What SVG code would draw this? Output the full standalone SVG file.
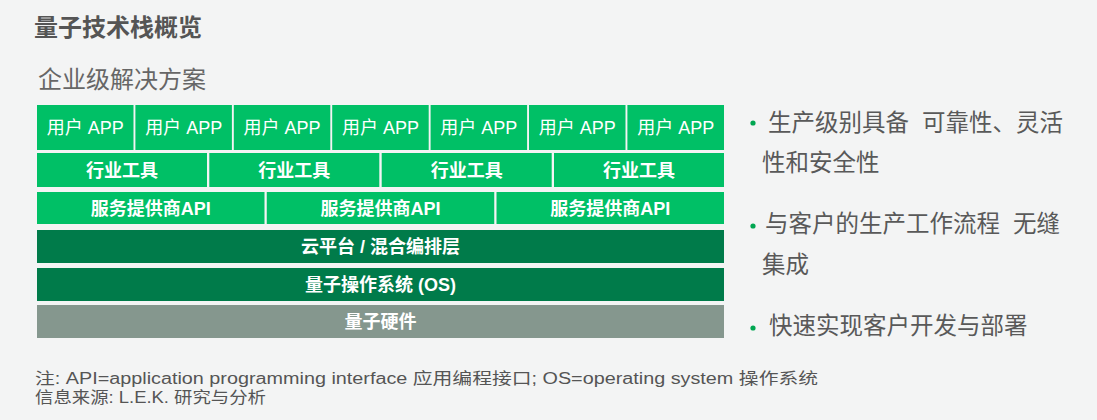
<svg xmlns="http://www.w3.org/2000/svg" width="1097" height="420" viewBox="0 0 1097 420">
<style>
.t{font-family:"Liberation Sans","Noto Sans CJK SC",sans-serif}
.g{fill:#00C066}
.d{fill:#007B4A}
.h{fill:#85978E}
.bx{font-family:"Liberation Sans","Noto Sans CJK SC",sans-serif;fill:#fff;font-size:18px;text-anchor:middle}
.b{font-weight:bold}
.bl{font-family:"Liberation Sans","Noto Sans CJK SC",sans-serif;fill:#595959;font-size:23.5px}
.dot{fill:#00A651}
.nt{font-family:"Liberation Sans","Noto Sans CJK SC",sans-serif;fill:#555;font-size:16px}
</style>
<rect width="1097" height="420" fill="#F3F4F4"/>
<text class="t" x="34" y="36" font-size="24" font-weight="bold" fill="#555">量子技术栈概览</text>
<text class="t" x="38" y="88" font-size="24" fill="#666">企业级解决方案</text>

<g id="apps">
<g id="app1"><rect class="g" x="37" y="105" width="96.5" height="45"/><text class="bx" x="85.25" y="134">用户 APP</text></g>
<g id="app2"><rect class="g" x="135.4" y="105" width="96.5" height="45"/><text class="bx" x="183.65" y="134">用户 APP</text></g>
<g id="app3"><rect class="g" x="233.8" y="105" width="96.5" height="45"/><text class="bx" x="282.05" y="134">用户 APP</text></g>
<g id="app4"><rect class="g" x="332.2" y="105" width="96.5" height="45"/><text class="bx" x="380.45" y="134">用户 APP</text></g>
<g id="app5"><rect class="g" x="430.6" y="105" width="96.5" height="45"/><text class="bx" x="478.85" y="134">用户 APP</text></g>
<g id="app6"><rect class="g" x="529" y="105" width="96.5" height="45"/><text class="bx" x="577.25" y="134">用户 APP</text></g>
<g id="app7"><rect class="g" x="627.4" y="105" width="96.6" height="45"/><text class="bx" x="675.7" y="134">用户 APP</text></g>
</g>

<g id="tools">
<g id="tool1"><rect class="g" x="37" y="153" width="170" height="34"/><text class="bx b" x="122" y="176.5">行业工具</text></g>
<g id="tool2"><rect class="g" x="209.3" y="153" width="170" height="34"/><text class="bx b" x="294.3" y="176.5">行业工具</text></g>
<g id="tool3"><rect class="g" x="381.7" y="153" width="170" height="34"/><text class="bx b" x="466.7" y="176.5">行业工具</text></g>
<g id="tool4"><rect class="g" x="554" y="153" width="170" height="34"/><text class="bx b" x="639" y="176.5">行业工具</text></g>
</g>

<g id="apis">
<g id="api1"><rect class="g" x="37" y="192" width="227.5" height="32"/><text class="bx b" x="150.75" y="215">服务提供商API</text></g>
<g id="api2"><rect class="g" x="266.75" y="192" width="227.5" height="32"/><text class="bx b" x="380.5" y="215">服务提供商API</text></g>
<g id="api3"><rect class="g" x="496.5" y="192" width="227.5" height="32"/><text class="bx b" x="610.25" y="215">服务提供商API</text></g>
</g>

<g id="cloud"><rect class="d" x="37" y="230" width="687" height="33"/><text class="bx b" x="380.5" y="253">云平台 / 混合编排层</text></g>
<g id="os"><rect class="d" x="37" y="268" width="687" height="33"/><text class="bx b" x="380.5" y="291">量子操作系统 (OS)</text></g>
<g id="hw"><rect class="h" x="37" y="305" width="687" height="33"/><text class="bx b" x="380.5" y="328">量子硬件</text></g>

<g id="connectors"></g>

<g id="bullets">
<circle class="dot" cx="753" cy="123" r="2.6"/>
<text class="bl" x="768" y="131" xml:space="preserve">生产级别具备  可靠性、灵活</text>
<text class="bl" x="762" y="171">性和安全性</text>
<circle class="dot" cx="753" cy="226" r="2.6"/>
<text class="bl" x="765" y="232" xml:space="preserve">与客户的生产工作流程  无缝</text>
<text class="bl" x="762" y="273">集成</text>
<circle class="dot" cx="753" cy="328" r="2.6"/>
<text class="bl" x="769" y="334">快速实现客户开发与部署</text>
</g>

<text class="nt" x="35" y="384" textLength="783" lengthAdjust="spacingAndGlyphs">注: API=application programming interface 应用编程接口; OS=operating system 操作系统</text>
<text class="nt" x="35" y="403" textLength="231" lengthAdjust="spacingAndGlyphs">信息来源: L.E.K. 研究与分析</text>
</svg>
